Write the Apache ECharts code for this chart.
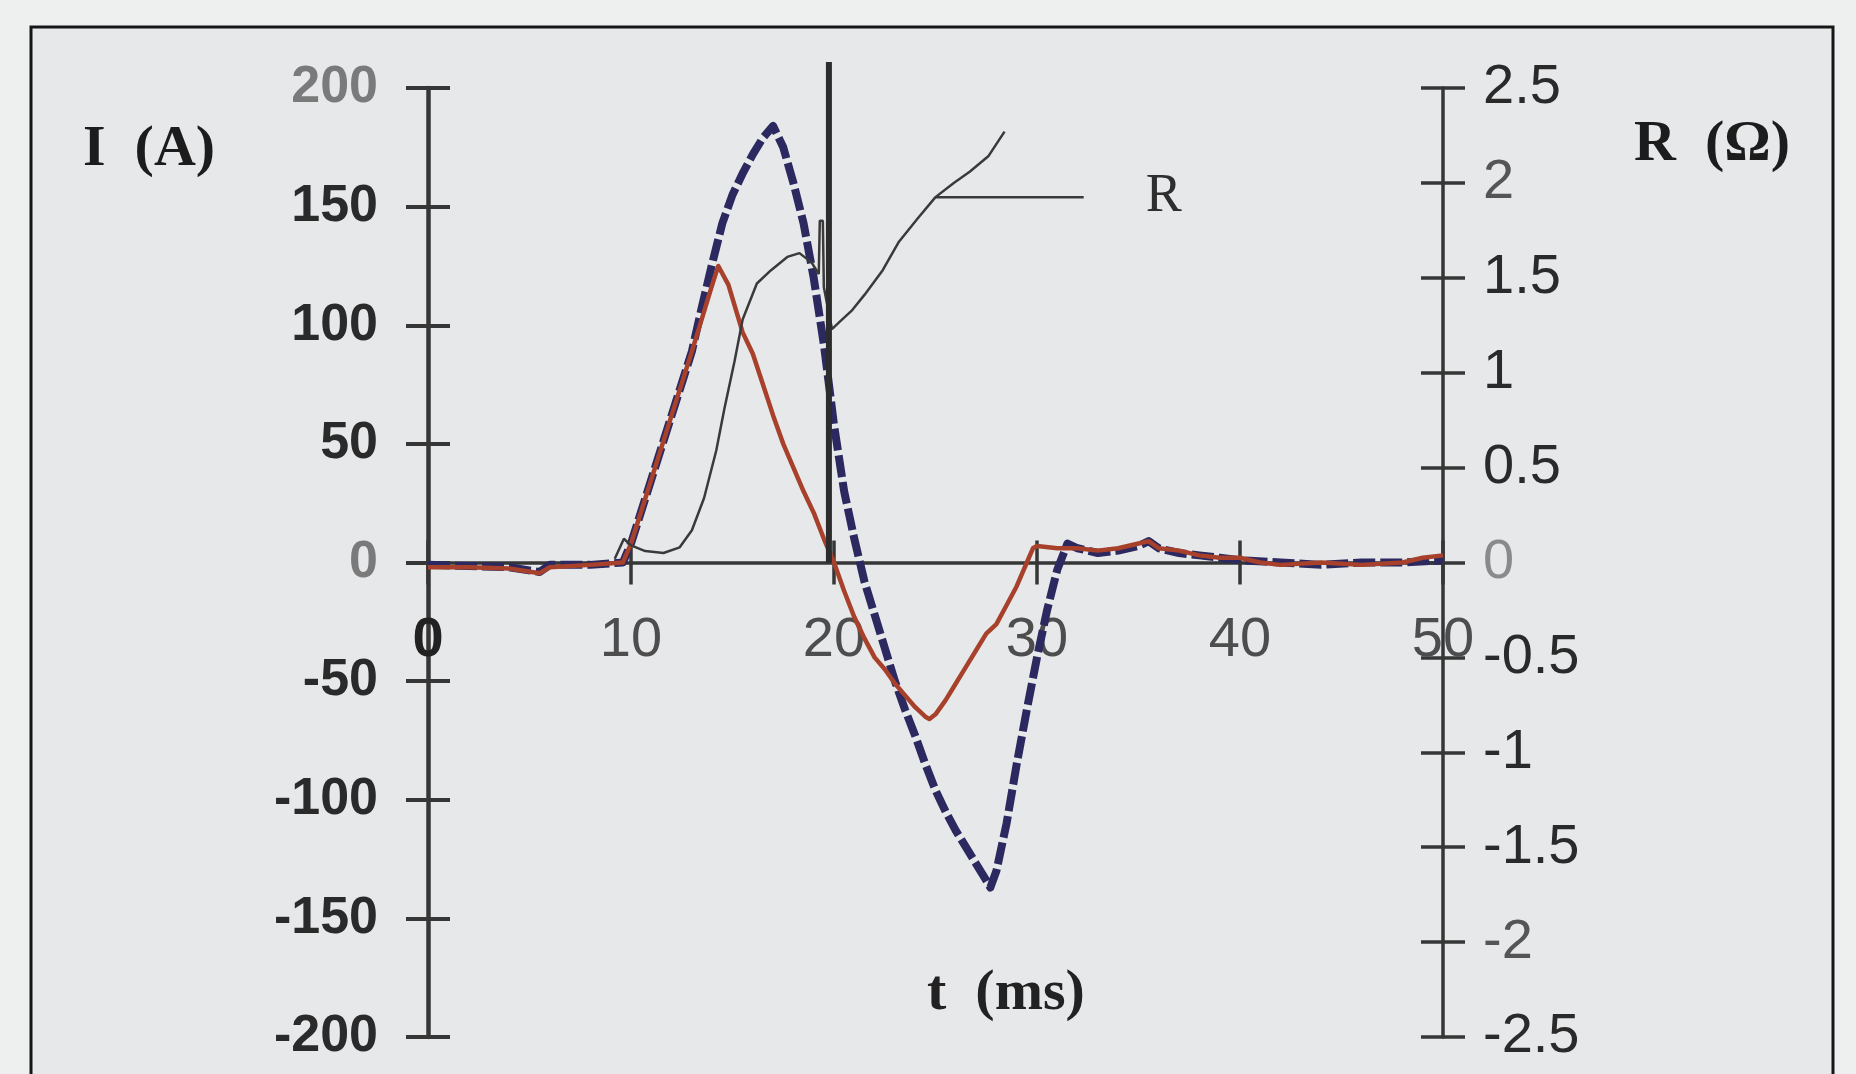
<!DOCTYPE html>
<html><head><meta charset="utf-8">
<script src="https://cdn.jsdelivr.net/npm/echarts@6/dist/echarts.min.js"></script>
<style>html,body{margin:0;padding:0;background:#eef0f0}#c{width:1856px;height:1074px}</style>
</head><body><div id="c"></div>
<script>
// ---- data ----
const redT = [0, 2, 4, 5.5, 6, 8, 9.6, 10, 11, 12, 13, 13.5, 14, 14.3, 14.8, 15.5, 16, 16.5, 17, 17.5, 18, 18.5, 19, 19.5, 20, 20.5, 21, 21.5, 22, 22.5, 23, 23.5, 24, 24.5, 24.7, 25, 25.5, 26, 26.5, 27, 27.5, 28, 28.5, 29, 29.5, 29.8, 30, 31, 32, 33, 34, 35, 35.5, 36, 37, 38, 39, 40, 41, 42, 44, 46, 48, 49, 50];
const redI = [-2, -2, -2.5, -4.5, -2, -1, 0, 8, 35, 62, 89, 103, 117, 125, 117, 97, 88, 75, 62, 50, 40, 30, 21, 10, 0, -12, -23, -32, -40, -45, -51, -56, -61, -65, -66, -64, -58, -51, -44, -37, -30, -26, -18, -10, 0, 6, 7, 6, 6, 5, 6, 8, 9, 6, 5, 3, 2, 2, 0, -1, 0, -1, 0, 2, 3];

const blueT = [0, 2, 4, 5.5, 6, 8, 9.6, 10, 11, 12, 13, 13.5, 14, 14.5, 15, 15.5, 16, 16.5, 17, 17.5, 18, 18.5, 19, 19.5, 20, 20.5, 21, 21.5, 22, 22.5, 23, 23.5, 24, 24.5, 25, 25.5, 26, 26.5, 27, 27.5, 27.7, 28, 28.5, 29, 29.5, 30, 30.5, 31, 31.5, 32, 33, 34, 35, 35.5, 36, 37, 38, 39, 40, 42, 44, 46, 48, 50];
const blueI = [-1, -1.5, -2, -4, -1, -1, 0, 8, 35, 62, 89, 108, 126, 143, 155, 164, 172, 179, 184, 175, 160, 143, 120, 92, 58, 30, 10, -8, -22, -36, -50, -62, -73, -85, -96, -105, -113, -120, -127, -134, -137, -130, -110, -85, -62, -40, -20, -3, 8, 6, 4, 5, 7, 9, 6, 4, 3, 2, 1, 0, -1, 0, 0, 1];

const resT = [9.2, 9.65, 10, 10.7, 11.6, 12.4, 13, 13.6, 14.2, 14.6, 15.1, 15.5, 16.2, 16.9, 17.7, 18.3, 18.9, 19.25, 19.3, 19.45, 19.5, 19.9, 20.3, 20.9, 21.5, 22.4, 23.2, 24.1, 25, 25.9, 26.7, 27.6, 28.4];
const resR = [0.02, 0.125, 0.09, 0.06, 0.05, 0.08, 0.17, 0.34, 0.59, 0.81, 1.06, 1.28, 1.47, 1.54, 1.61, 1.63, 1.58, 1.52, 1.8, 1.8, 1.45, 1.23, 1.27, 1.33, 1.41, 1.54, 1.69, 1.81, 1.925, 2.0, 2.06, 2.14, 2.27];

const markerT = 19.75;          // thick vertical marker line
const markerI = [0, 211];
const leaderT = [25.0, 32.3];   // leader line to the "R" label
const leaderR = 1.925;

const tAxis = {min: 0, max: 50, step: 10};
const iAxis = {min: -200, max: 200, step: 50};
const rAxis = {min: -2.5, max: 2.5, step: 0.5};

// ---- chart ----
const zip = (a, b) => a.map((v, i) => [v, b[i]]);
const AX = '#363636';
const sans = "'Liberation Sans', Arial, sans-serif";
const serif = "'Liberation Serif', 'Times New Roman', serif";
const chart = echarts.init(document.getElementById('c'), null, {renderer: 'canvas'});

const GRID = {left: 428, right: 413, top: 88, bottom: 37};
const plotH = 1074 - GRID.top - GRID.bottom;
const zeroShift = -plotH / 2;   // moves the t axis from the grid edge up to I = 0 (middle of the symmetric range)
const TICK = 22;

const baseX = {type: 'value', min: tAxis.min, max: tAxis.max, interval: tAxis.step, position: 'bottom', splitLine: {show: false}};
const baseI = {type: 'value', min: iAxis.min, max: iAxis.max, interval: iAxis.step, position: 'left', splitLine: {show: false}};
const baseR = {type: 'value', min: rAxis.min, max: rAxis.max, interval: rAxis.step, position: 'right', splitLine: {show: false}};

chart.setOption({
  backgroundColor: '#eef0f0',
  animation: false,
  grid: Object.assign({containLabel: false, outerBoundsMode: 'none'}, GRID),
  xAxis: [
    Object.assign({}, baseX, {
      offset: zeroShift,
      axisLine: {show: true, onZero: false, lineStyle: {color: AX, width: 3.5}},
      axisTick: {show: false},
      axisLabel: {margin: 50, fontSize: 56, fontFamily: sans, color: '#4d4d4d',
        formatter: v => Number(v) === 0 ? '{z|0}' : String(v),
        rich: {z: {fontSize: 56, fontFamily: sans, fontWeight: 'bold', color: '#222222'}}}
    }),
    Object.assign({}, baseX, {
      offset: zeroShift - TICK,
      axisLine: {show: false, onZero: false},
      axisTick: {show: true, length: 2 * TICK, lineStyle: {color: AX, width: 3.5}},
      axisLabel: {show: false}
    })
  ],
  yAxis: [
    Object.assign({}, baseI, {
      axisLine: {show: true, onZero: false, lineStyle: {color: AX, width: 4.5}},
      axisTick: {show: true, length: TICK, lineStyle: {color: AX, width: 4}},
      axisLabel: {margin: 50, fontSize: 52, fontWeight: 'bold', fontFamily: sans,
        color: v => (Number(v) === 200 || Number(v) === 0) ? '#7a7a7a' : '#2a2a2a'}
    }),
    Object.assign({}, baseI, {
      axisLine: {show: false, onZero: false},
      axisTick: {show: true, inside: true, length: TICK, lineStyle: {color: AX, width: 4}},
      axisLabel: {show: false}
    }),
    Object.assign({}, baseR, {
      axisLine: {show: true, onZero: false, lineStyle: {color: AX, width: 3.5}},
      axisTick: {show: true, length: TICK, lineStyle: {color: AX, width: 3.5}},
      axisLabel: {margin: 40, fontSize: 56, fontFamily: sans,
        color: v => Number(v) === 0 ? '#8a8a8a' : (Math.abs(Number(v)) === 2 ? '#555555' : '#2a2a2a')}
    }),
    Object.assign({}, baseR, {
      axisLine: {show: false, onZero: false},
      axisTick: {show: true, inside: true, length: TICK, lineStyle: {color: AX, width: 3.5}},
      axisLabel: {show: false}
    })
  ],
  series: [
    {type: 'line', name: 'I (dashed)', xAxisIndex: 0, yAxisIndex: 0, data: zip(blueT, blueI),
      symbol: 'none', silent: true, z: 3, emphasis: {disabled: true},
      lineStyle: {color: '#2b295f', width: 8, type: [22, 5], join: 'round'}},
    {type: 'line', name: 'I', xAxisIndex: 0, yAxisIndex: 0, data: zip(redT, redI),
      symbol: 'none', silent: true, z: 4, emphasis: {disabled: true},
      lineStyle: {color: '#a8412b', width: 4.5, join: 'round'}},
    {type: 'line', name: 'R', xAxisIndex: 0, yAxisIndex: 2, data: zip(resT, resR),
      symbol: 'none', silent: true, z: 5, emphasis: {disabled: true},
      lineStyle: {color: '#3a3a3a', width: 2.5}},
    {type: 'line', name: 'marker', xAxisIndex: 0, yAxisIndex: 0, data: markerI.map(v => [markerT, v]),
      symbol: 'none', silent: true, clip: false, z: 6, emphasis: {disabled: true},
      lineStyle: {color: '#2c2c2c', width: 6}},
    {type: 'line', name: 'leader', xAxisIndex: 0, yAxisIndex: 2, data: leaderT.map(t => [t, leaderR]),
      symbol: 'none', silent: true, z: 6, emphasis: {disabled: true},
      lineStyle: {color: '#3a3a3a', width: 2.5},
      endLabel: {show: true, formatter: 'R', distance: 62, fontFamily: serif, fontSize: 54, color: '#2e2e2e'}}
  ],
  graphic: [
    {type: 'rect', z: -100, silent: true, shape: {x: 31, y: 27, width: 1802, height: 1100},
      style: {fill: '#e6e8ea', stroke: '#161616', lineWidth: 3}},
    {type: 'text', z: 100, silent: true, style: {text: 'I\u2002(A)', x: 83, y: 150, font: 'bold 58px ' + serif,
      fill: '#1c1c1c', textVerticalAlign: 'middle', verticalAlign: 'middle'}},
    {type: 'text', z: 100, silent: true, style: {text: 'R\u2002(\u03A9)', x: 1634, y: 145, font: 'bold 58px ' + serif,
      fill: '#1c1c1c', textVerticalAlign: 'middle', verticalAlign: 'middle'}},
    {type: 'text', z: 100, silent: true, style: {text: 't\u2002(ms)', x: 927, y: 994, font: 'bold 58px ' + serif,
      fill: '#222222', textVerticalAlign: 'middle', verticalAlign: 'middle'}}
  ]
});
</script>
</body></html>
